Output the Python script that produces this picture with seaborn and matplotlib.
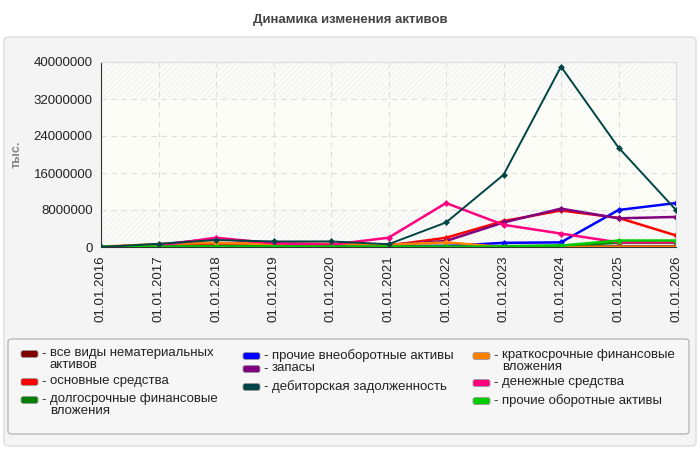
import numpy as np
import pandas as pd
import seaborn as sns
import matplotlib.pyplot as plt
from matplotlib.patches import FancyBboxPatch

# dates on the x axis
dates = ['01.01.2016', '01.01.2017', '01.01.2018', '01.01.2019', '01.01.2020', '01.01.2021',
         '01.01.2022', '01.01.2023', '01.01.2024', '01.01.2025', '01.01.2026']

# values in thousands
intangible = [0, 500000, 800000, 600000, 500000, 300000, 200000, 100000, 100000, 100000, 100000]
fixed_assets = [0, 200000, 300000, 200000, 100000, 300000, 2000000, 5600000, 7900000, 6300000, 2500000]
long_fin = [0, 100000, 200000, 200000, 200000, 200000, 200000, 200000, 300000, 900000, 900000]
other_noncurrent = [0, 0, 0, 0, 0, 100000, 200000, 900000, 1000000, 8000000, 9500000]
inventories = [0, 500000, 1800000, 800000, 600000, 500000, 1300000, 5300000, 8300000, 6200000, 6500000]
receivables = [0, 700000, 1500000, 1200000, 1200000, 600000, 5300000, 15600000, 39000000, 21500000, 8000000]
short_fin = [100000, 600000, 900000, 600000, 700000, 500000, 1000000, 0, 0, 0, 0]
cash = [0, 300000, 2000000, 800000, 500000, 2000000, 9500000, 4800000, 2900000, 1000000, 1000000]
other_current = [100000, 100000, 100000, 100000, 100000, 100000, 100000, 100000, 300000, 1400000, 1400000]

names = ['все виды нематериальных\nактивов', 'основные средства', 'долгосрочные финансовые\nвложения',
         'прочие внеоборотные активы', 'запасы', 'дебиторская задолженность',
         'краткосрочные финансовые\nвложения', 'денежные средства', 'прочие оборотные активы']
series = [intangible, fixed_assets, long_fin, other_noncurrent, inventories, receivables,
          short_fin, cash, other_current]
colors = ['#800000', '#ff0000', '#008000', '#0000ff', '#800080', '#004545',
          '#ff8000', '#ff0080', '#00cc00']

rows = []
for name, vals in zip(names, series):
    for i, v in enumerate(vals):
        rows.append({'x': i, 'value': v, 'name': name})
df = pd.DataFrame(rows)

sns.set_style('white')
plt.rcParams['font.family'] = ['Liberation Sans', 'DejaVu Sans']

W, H = 700, 450
fig = plt.figure(figsize=(7, 4.5), dpi=100)
fig.patch.set_facecolor('white')


def px(x, y):
    # pixel coords (top-left origin) -> figure fraction
    return x / W, 1 - y / H


# outer panel
fig.patches.append(FancyBboxPatch(px(4, 446), 692 / W, 409 / H, boxstyle='round,pad=0,rounding_size=0.008',
                                  transform=fig.transFigure, facecolor='#f4f4f4', edgecolor='#dddddd',
                                  linewidth=1, zorder=-2))
# legend panel
fig.patches.append(FancyBboxPatch(px(8, 434), 681 / W, 95 / H, boxstyle='round,pad=0,rounding_size=0.006',
                                  transform=fig.transFigure, facecolor='#f6f6f6', edgecolor='#aaaaaa',
                                  linewidth=0.8, zorder=-1))

fig.text(0.5, 1 - 20 / H, 'Динамика изменения активов', ha='center', va='center',
         fontsize=9.5, fontweight='bold', color='#444444')

ax = fig.add_axes([101 / W, 1 - 247 / H, 575 / W, 185 / H])
ax.set_facecolor('#fcfcfa')
ax.axhspan(0, 8000000, facecolor='none', hatch='//////', edgecolor='#f3f3f3', linewidth=0, zorder=0)
ax.axhspan(8000000, 32000000, facecolor='#fdfdf7', linewidth=0, zorder=0)
ax.axhspan(32000000, 40000000, facecolor='none', hatch='//////', edgecolor='#f3f3f3', linewidth=0, zorder=0)

pal = dict(zip(names, colors))
sns.lineplot(data=df, x='x', y='value', hue='name', hue_order=names, palette=pal,
             marker='D', markersize=3.5, markeredgewidth=0, linewidth=1.8, legend=False, ax=ax)
for ln in ax.get_lines():
    if ln.get_color() == '#004545':
        ln.set_linewidth(1.4)
        ln.set_zorder(3)

ax.set_xlim(0, len(dates) - 1)
ax.set_ylim(0, 40000000)
ax.set_xticks(range(len(dates)))
ax.set_xticklabels(dates, rotation=90, fontsize=9.5, color='#222222')
yt = np.arange(0, 40000001, 8000000)
ax.set_yticks(yt)
ax.set_yticklabels([str(v) for v in yt], fontsize=9.5, color='#222222')
ax.tick_params(axis='both', length=4, width=0.8, color='#333333', direction='out', pad=2)
ax.grid(True, linestyle=(0, (5, 4)), color='#dddddd', linewidth=0.8)
ax.set_axisbelow(True)
ax.set_xlabel('')
ax.set_ylabel('тыс.', fontsize=9, fontweight='bold', color='#888888', labelpad=8)
for s in ['top', 'right']:
    ax.spines[s].set_color('#dddddd')
for s in ['left', 'bottom']:
    ax.spines[s].set_color('#333333')

# legend, drawn by hand so wrapped labels sit next to the top line
leg_pos = [(21, 354), (21, 382), (21, 400),
           (243, 356), (243, 369), (243, 387),
           (473, 356), (473, 383), (473, 401)]
for (lx, ly), c, n in zip(leg_pos, colors, names):
    fig.patches.append(FancyBboxPatch(px(lx, ly + 3.5), 17 / W, 7 / H,
                                      boxstyle='round,pad=0,rounding_size=0.004',
                                      transform=fig.transFigure, facecolor=c, edgecolor='#999999',
                                      linewidth=0.6))
    fig.text(*px(lx + 20, ly), '-', ha='left', va='center', fontsize=9.5, color='#222222')
    fig.text(*px(lx + 29, ly - 7), n, ha='left', va='top', fontsize=9.5, color='#222222',
             linespacing=0.98)

fig.savefig('out.png', dpi=100)
